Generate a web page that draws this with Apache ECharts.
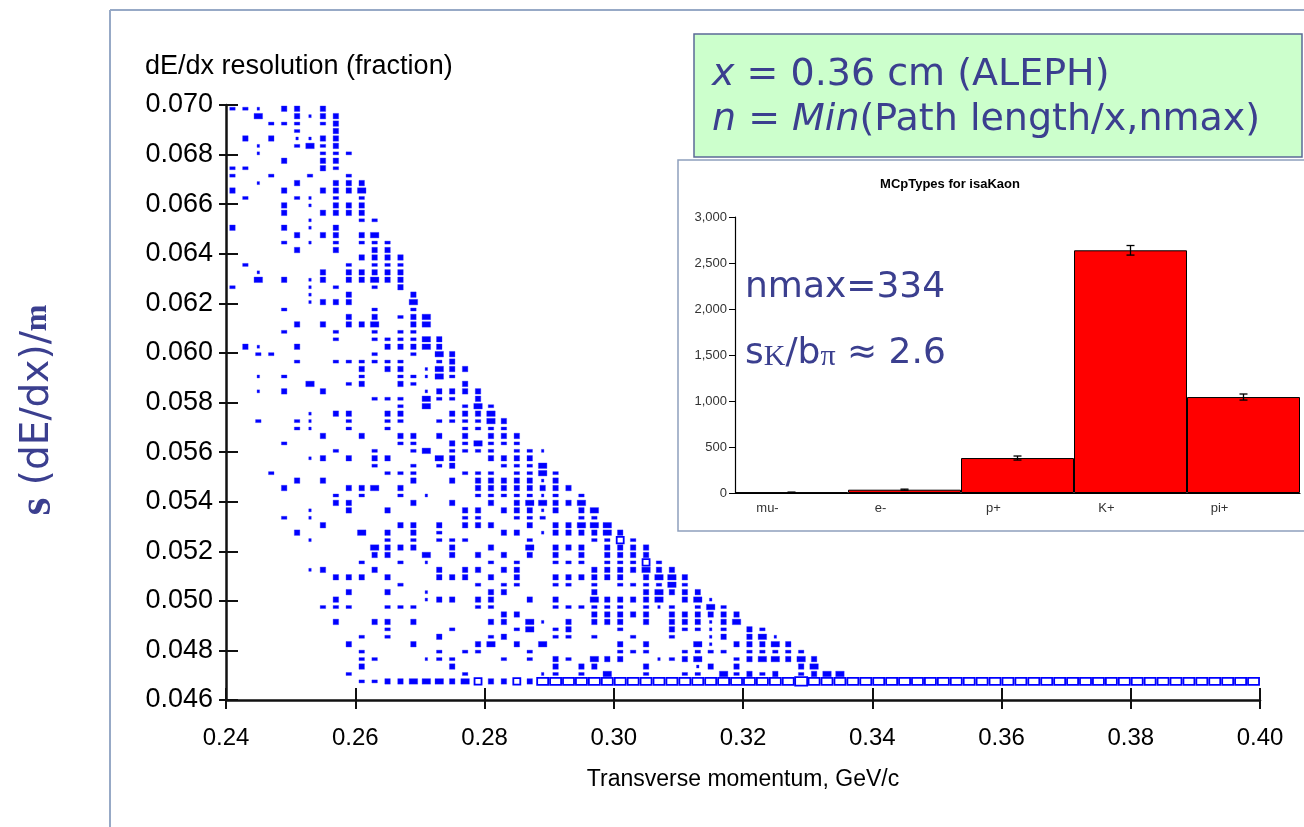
<!DOCTYPE html>
<html>
<head>
<meta charset="utf-8">
<script src="https://cdn.jsdelivr.net/npm/echarts@6/dist/echarts.min.js"></script>
<style>
  html, body { margin: 0; padding: 0; background: #fff; }
  #main { width: 1304px; height: 827px; }
</style>
</head>
<body>
<div id="main"></div>
<script>
// dE/dx resolution vs transverse momentum, box plot (2D histogram)
// bins: pt 0.240..0.400 step 0.002, resolution 0.0466.. step 0.0003
const ptBinLow = 0.240, ptBinWidth = 0.002;
const resBinLow = 0.0466, resBinWidth = 0.0003;
// box size level per cell, one string per resolution row, top row first
// 0 empty, 1 dot, 2 dash, 3 small box, 4 wide box, 5-7 open boxes (biggest counts)
const boxRows = [
  "22103303",
  "004003133",
  "000222023",
  "000002003",
  "030301133",
  "001002423",
  "0010000222",
  "000030033",
  "220000032",
  "2002002002",
  "00100300333",
  "30003003334",
  "02000210202",
  "00003010333",
  "00003003333",
  "000000100022",
  "300030103",
  "000003033034",
  "0000201020222",
  "0000030030033",
  "00000000003333",
  "02000000020222",
  "00100003033333",
  "00403013033433",
  "20000010200203",
  "000000100300003",
  "000000133300004",
  "000020000002002",
  "0000000003030234",
  "0000030303340034",
  "000020002002022",
  "00000000200222243",
  "03100300000033343",
  "002200000002002043",
  "000002002222220023",
  "0000000000303301433",
  "001020000020022142",
  "0000004002300320003",
  "00103003000000013333",
  "00000000000222042203",
  "000000000000020400242",
  "000000103300330003334",
  "0020021002002200222243",
  "0000021002002000002222",
  "00000003003003303030333",
  "00002000000002200324222",
  "0000000020020024022220221",
  "000000130303300043003333",
  "0000000000020020230002224",
  "00020000000022200022202242",
  "00000303000000300303333313",
  "000030000334030000033333333",
  "0000000020200201000222221202",
  "0000000033000030030030344334",
  "00000010030030000033033313034",
  "00002010000000000022002220022",
  "000000030000033030333003033444",
  "0000030000403030200003301333343",
  "00000010000020202220000200002252",
  "000000000004333003003004033303333",
  "000000000003300403030303030303333",
  "0000000000200201000020200222022252",
  "00000013000300003033033000003333433",
  "000000003330300033303030033333303443",
  "000000000000020000020220022020222242",
  "0000000003003001000033000000300034333",
  "00000000300000013303300303004333340341",
  "000000022200222000022000022222202120242",
  "0000000000000000000003300000333330333333",
  "0000000030033030000033041030333030333134",
  "000000000000200002000024023000200032212032",
  "0000000000202000300023000220200200200130341",
  "00000000030000300003403040000030300041033343",
  "000000000020000020220002000000222002222022222",
  "0000000000220001220002020320433001234002344343",
  "0000000000300000030000000303300030001303000034",
  "000000000200000000200000120204002002204232302344",
  "0000000000223344434533536666666666666666666676666666666666666666666666666666666666"
];
const ptTicks = [0.24, 0.26, 0.28, 0.30, 0.32, 0.34, 0.36, 0.38, 0.40];
const resTicks = [0.046, 0.048, 0.050, 0.052, 0.054, 0.056, 0.058, 0.060, 0.062, 0.064, 0.066, 0.068, 0.070];

// inset: MCpTypes for isaKaon
const mcTypes = ["mu-", "e-", "p+", "K+", "pi+"];
const mcCounts = [7, 36, 380, 2638, 1043];
const mcErrors = [3, 6, 22, 52, 33];

const cells = [];
const nRows = boxRows.length;
boxRows.forEach((row, i) => {
  const r = nRows - 1 - i;
  for (let c = 0; c < row.length && c < 80; c++) {
    const lv = +row[c];
    if (lv > 0) {
      cells.push([ptBinLow + (c + 0.5) * ptBinWidth, resBinLow + (r + 0.5) * resBinWidth, lv]);
    }
  }
});

const boxSize = {1: [2.5, 3], 2: [5.5, 3], 3: [5.5, 5.5], 4: [8.5, 5.5], 5: [7, 6.5], 6: [11, 7], 7: [12, 8.5]};
const ink = '#3b3f8f';
const mainFont = 'Liberation Sans';

const chart = echarts.init(document.getElementById('main'));
chart.setOption({
  animation: false,
  backgroundColor: '#fff',
  grid: [
    {left: 226, top: 105, width: 1034, height: 595},
    {left: 735, top: 217, width: 565, height: 276}
  ],
  xAxis: [
    {
      gridIndex: 0, type: 'value', min: 0.24, max: 0.40, interval: 0.02,
      axisLine: {onZero: false, lineStyle: {color: '#111', width: 2.5}},
      axisTick: {length: 9, lineStyle: {color: '#111', width: 2}},
      axisLabel: {color: '#000', fontSize: 24, fontFamily: mainFont, margin: 26,
        formatter: v => v.toFixed(2)},
      splitLine: {show: false},
      name: 'Transverse momentum, GeV/c', nameLocation: 'middle', nameGap: 68,
      nameTextStyle: {color: '#000', fontSize: 23, fontFamily: mainFont}
    },
    {
      gridIndex: 0, type: 'value', min: 0.24, max: 0.40, interval: 0.02, position: 'bottom',
      axisLine: {show: false, onZero: false},
      axisTick: {inside: true, length: 12, lineStyle: {color: '#111', width: 2}},
      axisLabel: {show: false}, splitLine: {show: false}
    },
    {
      gridIndex: 1, type: 'category', data: mcTypes,
      axisLine: {lineStyle: {color: '#000', width: 1.2}},
      axisTick: {alignWithLabel: true, length: 7, lineStyle: {color: '#000'}},
      axisLabel: {color: '#333', fontSize: 13, fontFamily: mainFont, margin: 9, padding: [0, 48, 0, 0]},
      splitLine: {show: false}
    }
  ],
  yAxis: [
    {
      gridIndex: 0, type: 'value', min: 0.046, max: 0.070, interval: 0.002,
      axisLine: {onZero: false, lineStyle: {color: '#111', width: 2.5}},
      axisTick: {length: 7, lineStyle: {color: '#111', width: 2}},
      axisLabel: {color: '#000', fontSize: 27, fontFamily: mainFont, margin: 13,
        formatter: v => v.toFixed(3)},
      splitLine: {show: false}
    },
    {
      gridIndex: 0, type: 'value', min: 0.046, max: 0.070, interval: 0.002, position: 'left',
      axisLine: {show: false, onZero: false},
      axisTick: {inside: true, length: 12, lineStyle: {color: '#111', width: 2}},
      axisLabel: {show: false}, splitLine: {show: false}
    },
    {
      gridIndex: 1, type: 'value', min: 0, max: 3000, interval: 500,
      axisLine: {show: true, lineStyle: {color: '#000', width: 1.2}},
      axisTick: {show: true, length: 6, lineStyle: {color: '#000'}},
      axisLabel: {color: '#333', fontSize: 13, fontFamily: mainFont, margin: 8,
        formatter: v => v.toLocaleString('en-US')},
      splitLine: {show: false}
    }
  ],
  series: [
    {
      type: 'custom', xAxisIndex: 0, yAxisIndex: 0, data: cells, clip: true,
      renderItem: (params, api) => {
        const p = api.coord([api.value(0), api.value(1)]);
        const lv = api.value(2);
        const s = boxSize[lv];
        const open = lv >= 5;
        return {
          type: 'rect',
          shape: {x: p[0] - s[0] / 2, y: p[1] - s[1] / 2, width: s[0], height: s[1]},
          style: open ? {fill: '#fff', stroke: '#0000ff', lineWidth: 1.8}
                      : {fill: '#0000ff', stroke: 'rgba(40,40,255,0.35)', lineWidth: 1}
        };
      }
    },
    {
      type: 'bar', xAxisIndex: 2, yAxisIndex: 2, data: mcCounts,
      barCategoryGap: '0%',
      itemStyle: {color: '#ff0000', borderColor: '#000', borderWidth: 1}
    },
    {
      type: 'custom', xAxisIndex: 2, yAxisIndex: 2, z: 5,
      data: mcCounts.map((v, i) => [i, v - mcErrors[i], v + mcErrors[i]]),
      renderItem: (params, api) => {
        const lo = api.coord([api.value(0), api.value(1)]);
        const hi = api.coord([api.value(0), api.value(2)]);
        const x = lo[0], w = 4;
        const st = {stroke: '#000', lineWidth: 1.3};
        return {
          type: 'group',
          children: [
            {type: 'line', shape: {x1: x, y1: lo[1], x2: x, y2: hi[1]}, style: st},
            {type: 'line', shape: {x1: x - w, y1: lo[1], x2: x + w, y2: lo[1]}, style: st},
            {type: 'line', shape: {x1: x - w, y1: hi[1], x2: x + w, y2: hi[1]}, style: st}
          ]
        };
      }
    }
  ],
  graphic: [
    // slide frame
    {type: 'line', z: -10, shape: {x1: 110, y1: 10, x2: 110, y2: 827}, style: {stroke: '#97a9c6', lineWidth: 2}},
    {type: 'line', z: -10, shape: {x1: 110, y1: 10, x2: 1304, y2: 10}, style: {stroke: '#97a9c6', lineWidth: 2}},
    // left title
    {
      type: 'text', x: 38, y: 410, rotation: Math.PI / 2, z: 50,
      style: {
        text: '{s|s}{t| (dE/dx)/}{m|m}', align: 'center', verticalAlign: 'middle',
        rich: {
          s: {fontFamily: 'Liberation Serif', fontWeight: 'bold', fontSize: 46, fill: ink},
          t: {fontFamily: 'DejaVu Sans', fontSize: 39, fill: ink},
          m: {fontFamily: 'Liberation Serif', fontWeight: 'bold', fontSize: 32, fill: ink}
        }
      }
    },
    // y axis title
    {type: 'text', x: 145, y: 67, z: 50,
      style: {text: 'dE/dx resolution (fraction)', fontFamily: mainFont, fontSize: 27, fill: '#000',
        align: 'left', verticalAlign: 'middle'}},
    // green note
    {type: 'rect', z: 20, shape: {x: 694, y: 34, width: 608, height: 123},
      style: {fill: '#ccffcc', stroke: '#5b6a96', lineWidth: 1.5}},
    {
      type: 'text', x: 712, y: 75, z: 21,
      style: {
        text: '{i|x} = 0.36 cm (ALEPH)', verticalAlign: 'middle',
        rich: {i: {fontStyle: 'italic', fontFamily: 'DejaVu Sans', fontSize: 38, fill: ink}},
        fontFamily: 'DejaVu Sans', fontSize: 38, fill: ink
      }
    },
    {
      type: 'text', x: 712, y: 120, z: 21,
      style: {
        text: '{i|n} = {i|Min}(Path length/x,nmax)', verticalAlign: 'middle',
        rich: {i: {fontStyle: 'italic', fontFamily: 'DejaVu Sans', fontSize: 38, fill: ink}},
        fontFamily: 'DejaVu Sans', fontSize: 38, fill: ink
      }
    },
    // inset frame
    {type: 'rect', z: -5, shape: {x: 678, y: 160, width: 640, height: 371},
      style: {fill: '#fff', stroke: '#8fa0bd', lineWidth: 1.5}},
    {type: 'text', x: 950, y: 184, z: 21,
      style: {text: 'MCpTypes for isaKaon', fontFamily: mainFont, fontWeight: 'bold', fontSize: 13,
        fill: '#000', align: 'center', verticalAlign: 'middle'}},
    {type: 'text', x: 745, y: 288, z: 21,
      style: {text: 'nmax=334', fontFamily: 'DejaVu Sans', fontSize: 36, fill: ink, verticalAlign: 'middle'}},
    {
      type: 'text', x: 745, y: 348, z: 21,
      style: {
        text: '{t|s}{b|K}{t|/b}{b|π}{t| ≈ 2.6}', verticalAlign: 'middle',
        rich: {
          t: {fontFamily: 'DejaVu Sans', fontSize: 36, fill: ink, verticalAlign: 'bottom', lineHeight: 48},
          b: {fontFamily: 'Liberation Serif', fontSize: 30, fill: ink, verticalAlign: 'bottom',
            lineHeight: 30, padding: [30, 0, 0, 0]}
        }
      }
    }
  ]
});
</script>
</body>
</html>
